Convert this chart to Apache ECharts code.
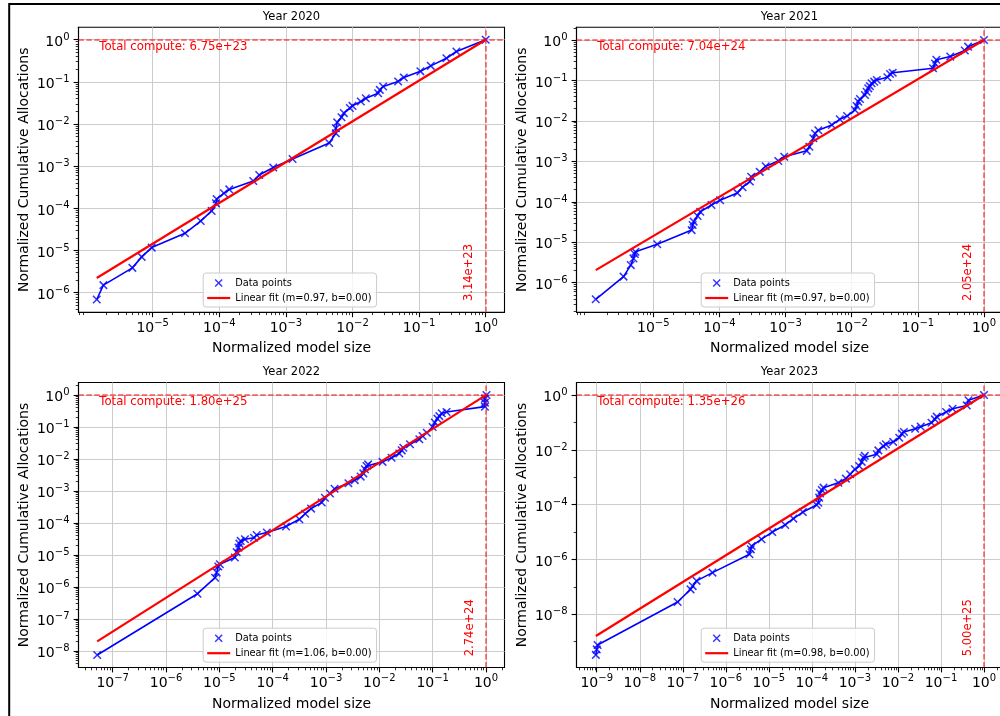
<!DOCTYPE html>
<html>
<head>
<meta charset="utf-8">
<script src="https://cdn.jsdelivr.net/npm/echarts@6.0.0/dist/echarts.min.js"></script>
<style>
html,body{margin:0;padding:0;background:#ffffff;}
#chart{width:1000px;height:716px;}
</style>
</head>
<body>
<div id="chart"></div>
<script>
// All values are log10 of the plotted quantity (the axes are log-scaled).
const years = ['2020', '2021', '2022', '2023'];

const size2020  = [-5.84,-5.74,-5.305,-5.165,-5.015,-4.515,-4.28,-4.115,-4.05,-4.04,-3.93,-3.85,-3.49,-3.40,-3.19,-2.90,-2.35,-2.25,-2.25,-2.23,-2.165,-2.13,-2.04,-2.0,-1.875,-1.80,-1.615,-1.59,-1.54,-1.315,-1.23,-0.98,-0.825,-0.59,-0.44,0];
const alloc2020 = [-6.16,-5.82,-5.41,-5.15,-4.93,-4.59,-4.30,-4.06,-3.88,-3.78,-3.64,-3.55,-3.35,-3.21,-3.03,-2.83,-2.45,-2.22,-2.10,-1.96,-1.84,-1.74,-1.62,-1.57,-1.465,-1.39,-1.27,-1.19,-1.11,-0.99,-0.895,-0.75,-0.62,-0.44,-0.28,0];

const size2021  = [-5.87,-5.45,-5.34,-5.30,-5.28,-5.27,-4.94,-4.42,-4.405,-4.39,-4.33,-4.29,-4.12,-3.99,-3.73,-3.65,-3.54,-3.52,-3.39,-3.30,-3.11,-3.02,-2.68,-2.64,-2.58,-2.555,-2.505,-2.30,-2.18,-2.07,-1.95,-1.925,-1.90,-1.875,-1.80,-1.775,-1.75,-1.725,-1.70,-1.66,-1.62,-1.46,-1.42,-1.38,-0.77,-0.74,-0.72,-0.51,-0.29,-0.24,0];
const alloc2021 = [-6.41,-5.85,-5.565,-5.40,-5.29,-5.235,-5.05,-4.70,-4.575,-4.49,-4.35,-4.245,-4.08,-3.96,-3.78,-3.64,-3.50,-3.38,-3.26,-3.12,-2.99,-2.885,-2.74,-2.64,-2.43,-2.31,-2.23,-2.10,-1.96,-1.88,-1.73,-1.63,-1.525,-1.46,-1.36,-1.28,-1.195,-1.14,-1.07,-1.03,-0.99,-0.92,-0.84,-0.81,-0.70,-0.58,-0.49,-0.41,-0.26,-0.165,0];

const size2022  = [-7.29,-5.41,-5.08,-5.05,-5.02,-4.99,-4.71,-4.675,-4.64,-4.625,-4.60,-4.52,-4.35,-4.30,-4.11,-3.75,-3.50,-3.39,-3.28,-3.08,-3.02,-2.925,-2.84,-2.58,-2.46,-2.35,-2.30,-2.27,-2.24,-2.21,-1.94,-1.77,-1.625,-1.58,-1.55,-1.425,-1.25,-1.19,-1.11,-1.0,-0.96,-0.91,-0.875,-0.83,-0.74,-0.02,-0.02,-0.02,0.01];
const alloc2022 = [-8.125,-6.21,-5.71,-5.55,-5.36,-5.29,-5.08,-4.91,-4.77,-4.645,-4.56,-4.51,-4.46,-4.375,-4.30,-4.11,-3.885,-3.71,-3.55,-3.36,-3.21,-3.08,-2.93,-2.76,-2.66,-2.55,-2.45,-2.32,-2.22,-2.17,-2.09,-1.96,-1.83,-1.73,-1.65,-1.54,-1.385,-1.28,-1.18,-1.0,-0.86,-0.74,-0.66,-0.57,-0.53,-0.365,-0.24,-0.115,0.0];

const size2023  = [-9.02,-9.0,-8.98,-7.12,-6.82,-6.77,-6.68,-6.31,-5.45,-5.42,-5.40,-5.17,-4.92,-4.62,-4.43,-4.21,-3.89,-3.85,-3.83,-3.81,-3.77,-3.73,-3.385,-3.21,-3.11,-3.0,-2.90,-2.84,-2.80,-2.77,-2.49,-2.455,-2.34,-2.28,-2.11,-1.97,-1.91,-1.86,-1.60,-1.47,-1.22,-1.14,-1.10,-0.88,-0.73,-0.40,-0.36,0];
const alloc2023 = [-9.48,-9.28,-9.12,-7.55,-7.09,-6.97,-6.78,-6.48,-5.81,-5.63,-5.51,-5.26,-5.0,-4.74,-4.51,-4.27,-4.01,-3.93,-3.745,-3.59,-3.465,-3.38,-3.20,-3.05,-2.89,-2.71,-2.59,-2.44,-2.29,-2.22,-2.16,-2.02,-1.86,-1.80,-1.71,-1.56,-1.41,-1.35,-1.23,-1.155,-1.01,-0.89,-0.79,-0.62,-0.50,-0.38,-0.195,0];

// fitted line end points (log10 size, log10 allocation)
const fitSize  = [[-5.84, 0], [-5.87, 0], [-7.29, 0.02], [-9.02, 0]];
const fitAlloc = [[-5.65, 0], [-5.69, 0], [-7.70, 0.02], [-8.79, 0]];

const fitLabels = ['Linear fit (m=0.97, b=0.00)', 'Linear fit (m=0.97, b=0.00)', 'Linear fit (m=1.06, b=0.00)', 'Linear fit (m=0.98, b=0.00)'];
const totalCompute = ['6.75e+23', '7.04e+24', '1.80e+25', '1.35e+26'];
const maxLabels = ['3.14e+23', '2.05e+24', '2.74e+24', '5.00e+25'];

// axis ranges (log10) and tick labels (exponents)
const xRanges = [[-6.114, 0.282], [-6.161, 0.28], [-7.641, 0.347], [-9.47, 0.43]];
const yRanges = [[-6.464, 0.294], [-6.732, 0.314], [-8.516, 0.39], [-9.94, 0.456]];
const xTicks = [[-5,-4,-3,-2,-1,0], [-5,-4,-3,-2,-1,0], [-7,-6,-5,-4,-3,-2,-1,0], [-9,-8,-7,-6,-5,-4,-3,-2,-1,0]];
const yTicks = [[-6,-5,-4,-3,-2,-1,0], [-6,-5,-4,-3,-2,-1,0], [-8,-7,-6,-5,-4,-3,-2,-1,0], [-8,-6,-4,-2,0]];
const yMinorStep = [1, 1, 1, 2];

const sizes = [size2020, size2021, size2022, size2023];
const allocs = [alloc2020, alloc2021, alloc2022, alloc2023];

// layout
const gridLeft = [78.5, 576.5, 78.5, 576.5];
const gridTop = [27.3, 27.3, 382.5, 382.5];
const GW = 426, GH = 285;

const FONT = '"DejaVu Sans", "Liberation Sans", sans-serif';
const X_PATH = 'path://M0,1.25L1.25,0L5,3.75L8.75,0L10,1.25L6.25,5L10,8.75L8.75,10L5,6.25L1.25,10L0,8.75L3.75,5Z';
const FIT_ICON = 'path://M0,0H23V2.2H0Z';

const RICH = {
  b: { fontFamily: FONT, fontSize: 14, lineHeight: 20, color: '#000' },
  s: { fontFamily: FONT, fontSize: 10, lineHeight: 10, verticalAlign: 'top', color: '#000' }
};
function fmtPow(v) {
  const e = Math.round(v);
  return '{b|10}{s|' + (e < 0 ? '\u2212' + (-e) : String(e)) + '}';
}
function minorTicks(range, step) {
  const out = [];
  for (let d = Math.floor(range[0]); d <= Math.ceil(range[1]); d++) {
    if (step === 1) {
      for (let k = 2; k <= 9; k++) {
        const v = d + Math.log10(k);
        if (v > range[0] && v < range[1]) out.push(v);
      }
    } else if (d % 2 !== 0 && d > range[0] && d < range[1]) {
      out.push(d);
    }
  }
  return out;
}
function mainAxis(i, isX, range, ticks) {
  return {
    type: 'value', gridIndex: i, min: range[0], max: range[1],
    position: isX ? 'bottom' : 'left',
    axisLine: { show: true, onZero: false, lineStyle: { color: '#000', width: 1.1 } },
    axisTick: { show: true, inside: false, length: 4.9, customValues: ticks, lineStyle: { color: '#000', width: 1.1 } },
    axisLabel: { show: true, customValues: ticks, formatter: fmtPow, margin: isX ? 6 : 9,
                 padding: isX ? 0 : [5, 0, 0, 0], rich: RICH, color: '#000', hideOverlap: false },
    splitLine: { show: true, lineStyle: { color: '#cccccc', width: 1 } },
    minorTick: { show: false }, minorSplitLine: { show: false },
    name: isX ? 'Normalized model size' : 'Normalized Cumulative Allocations',
    nameLocation: 'middle', nameGap: isX ? 29.5 : 47.4, nameMoveOverlap: false,
    nameTextStyle: { fontFamily: FONT, fontSize: 14, color: '#000' },
    silent: true
  };
}
function minorAxis(i, isX, range, minors) {
  return {
    type: 'value', gridIndex: i, min: range[0], max: range[1],
    position: isX ? 'bottom' : 'left',
    axisLine: { show: false, onZero: false },
    axisTick: { show: true, inside: false, length: 2.8, customValues: minors, lineStyle: { color: '#000', width: 0.8 } },
    axisLabel: { show: false }, splitLine: { show: false },
    minorTick: { show: false }, silent: true
  };
}

const grid = [], xAxis = [], yAxis = [], series = [], legend = [];
years.forEach((yr, i) => {
  grid.push({ left: gridLeft[i], top: gridTop[i], width: GW, height: GH, show: true,
              borderColor: '#000', borderWidth: 1.1, backgroundColor: 'transparent',
              containLabel: false, outerBoundsMode: 'none' });
  xAxis.push(mainAxis(i, true, xRanges[i], xTicks[i]));
  xAxis.push(minorAxis(i, true, xRanges[i], minorTicks(xRanges[i], 1)));
  yAxis.push(mainAxis(i, false, yRanges[i], yTicks[i]));
  yAxis.push(minorAxis(i, false, yRanges[i], minorTicks(yRanges[i], yMinorStep[i])));

  const pts = sizes[i].map((s, k) => [s, allocs[i][k]]);
  const fit = fitSize[i].map((s, k) => [s, fitAlloc[i][k]]);
  series.push({ type: 'line', name: 'data-line-' + yr, xAxisIndex: 2 * i, yAxisIndex: 2 * i, data: pts,
                symbol: 'none', lineStyle: { color: '#0000ff', width: 1.6 }, itemStyle: { color: '#0000ff' },
                z: 2, silent: true, animation: false });
  series.push({ type: 'scatter', name: 'Data points', xAxisIndex: 2 * i, yAxisIndex: 2 * i, data: pts,
                symbol: X_PATH, symbolSize: 8.6, itemStyle: { color: '#0000ff', borderWidth: 0 },
                z: 3, silent: true, animation: false });
  series.push({ type: 'line', name: fitLabels[i], xAxisIndex: 2 * i, yAxisIndex: 2 * i, data: fit,
                symbol: 'none', lineStyle: { color: '#ff0000', width: 2.2 }, itemStyle: { color: '#ff0000', borderWidth: 0 },
                z: 4, silent: true, animation: false,
                markLine: { silent: true, animation: false, symbol: ['none', 'none'], label: { show: false },
                            lineStyle: { color: 'rgba(255,0,0,0.65)', type: [5.5, 2.4], width: 1.5 },
                            emphasis: { disabled: true },
                            data: [{ xAxis: 0 }, { yAxis: 0 }] } });
  legend.push({
    left: gridLeft[i] + GW / 2 - 88.3, top: gridTop[i] + GH - 39.3,
    orient: 'vertical', itemGap: 5, itemWidth: 23, itemHeight: 8,
    padding: [5, 5, 4, 4], backgroundColor: 'rgba(255,255,255,0.8)',
    borderColor: '#cccccc', borderWidth: 1, borderRadius: 3,
    textStyle: { fontFamily: FONT, fontSize: 9.8, color: '#000' },
    selectedMode: false,
    data: [
      { name: 'Data points', icon: X_PATH, itemStyle: { color: '#0000ff', borderWidth: 0 } },
      { name: fitLabels[i], icon: FIT_ICON, itemStyle: { color: '#ff0000', borderWidth: 0 } }
    ]
  });
});

const chart = echarts.init(document.getElementById('chart'), null, { renderer: 'canvas' });
chart.setOption({
  animation: false,
  backgroundColor: '#ffffff',
  textStyle: { fontFamily: FONT },
  grid, xAxis, yAxis, series, legend
});

// annotations tied to the grids / axes
const graphic = [{
  type: 'rect', silent: true, z: 100,
  shape: { x: 9.2, y: 4, width: 1100, height: 900 },
  style: { fill: 'none', stroke: '#000', lineWidth: 2 }
}];
years.forEach((yr, i) => {
  const cx = gridLeft[i] + GW / 2;
  graphic.push({
    type: 'text', silent: true, z: 50, x: cx, y: gridTop[i] - 10.4,
    style: { text: 'Year ' + yr, font: '11.5px ' + FONT, fill: '#000',
             align: 'center', verticalAlign: 'middle', textAlign: 'center', textVerticalAlign: 'middle' }
  });
  graphic.push({
    type: 'text', silent: true, z: 50, x: gridLeft[i] + 0.05 * GW - 0.5, y: gridTop[i] + 0.05 * GH - 0.7,
    style: { text: 'Total compute: ' + totalCompute[i], font: '11.7px ' + FONT, fill: '#ff0000',
             align: 'left', verticalAlign: 'top', textAlign: 'left', textVerticalAlign: 'top' }
  });
  const px0 = chart.convertToPixel({ xAxisIndex: 2 * i }, 0);
  graphic.push({
    type: 'text', silent: true, z: 50, x: px0 - 16.4, y: gridTop[i] + GH - 11.3, rotation: Math.PI / 2,
    style: { text: maxLabels[i], font: '11.5px ' + FONT, fill: '#ff0000',
             align: 'left', verticalAlign: 'middle', textAlign: 'left', textVerticalAlign: 'middle' }
  });
});
chart.setOption({ graphic });
</script>
</body>
</html>
